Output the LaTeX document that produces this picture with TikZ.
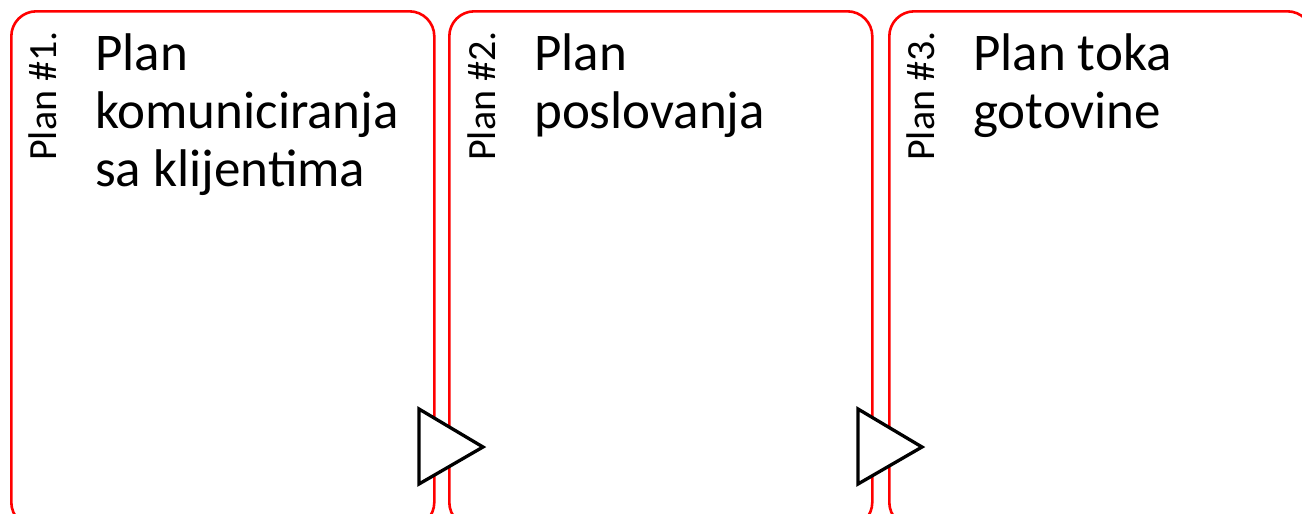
\documentclass[tikz,border=0pt]{standalone}
\usepackage{fontspec}
\setmainfont{Carlito}
\begin{document}
\begin{tikzpicture}[x=1pt,y=-1pt,
  planbox/.style={draw=red, line width=2.6pt, rounded corners=25pt, fill=white,
    anchor=north west, minimum width=423pt, minimum height=516pt, inner sep=0pt},
  arrowtri/.style={draw=black, line width=3.3pt, fill=white, line join=miter},
  sidelabel/.style={rotate=90, anchor=base west, inner sep=0pt, font=\fontsize{40}{48}\selectfont},
  title/.style={anchor=base west, inner sep=0pt, align=left, font=\fontsize{53}{58}\selectfont}]
\useasboundingbox (0,0) rectangle (1302,514);
\clip (0,0) rectangle (1302,514);
% three plan cards, running below the lower edge
\node[planbox] (b1) at (10,10) {};
\node[planbox] (b2) at (448,10) {};
\node[planbox] (b3) at (888,10) {};
% vertical numbering
\node[sidelabel] (n1) at (56,161) {Plan \#1.};
\node[sidelabel] (n2) at (495,161) {Plan \#2.};
\node[sidelabel] (n3) at (934,161) {Plan \#3.};
% card titles (anchored on the baseline of the last line)
\node[title] (t1) at (95,186) {Plan\\komuniciranja\\sa klijentima};
\node[title] (t2) at (534,128) {Plan\\poslovanja};
\node[title] (t3) at (973,128) {Plan toka\\gotovine};
% arrows between cards
\draw[arrowtri] (419,409) -- (483,447) -- (419,484) -- cycle;
\draw[arrowtri] (858,409) -- (922,447) -- (858,484) -- cycle;
\end{tikzpicture}
\end{document}
